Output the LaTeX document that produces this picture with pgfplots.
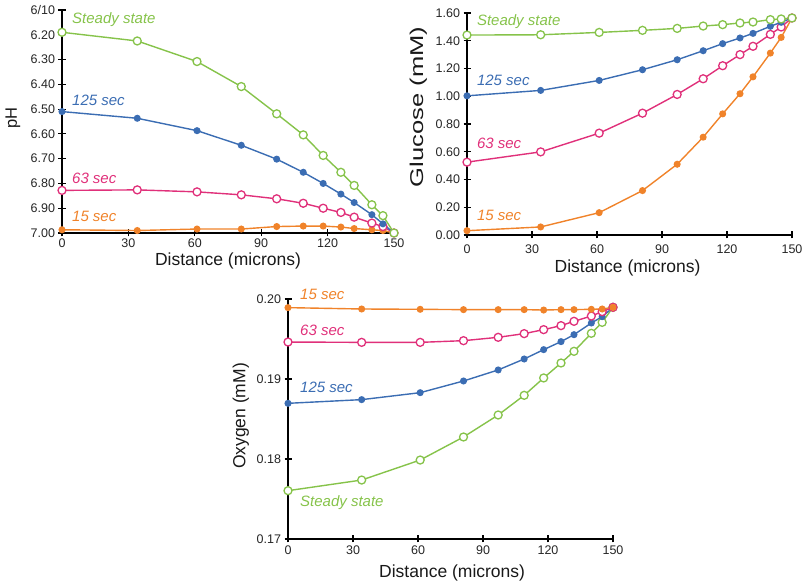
\documentclass[border=0pt]{standalone}
\usepackage{pgfplots}
\usepackage{pgfplotstable}
\pgfplotsset{compat=1.18}
\usepackage{fontspec}
\setmainfont{Liberation Sans}
\usepackage{graphicx}
\definecolor{cgreen}{HTML}{86C34A}
\definecolor{cblue}{HTML}{3B6DB3}
\definecolor{cmag}{HTML}{E0307A}
\definecolor{corange}{HTML}{F0832A}

\pgfplotstableread{
x ss s125 s63 s15
0   6.190 6.510 6.828 6.987
34  6.225 6.537 6.826 6.990
61  6.308 6.587 6.834 6.984
81  6.409 6.646 6.846 6.984
97  6.519 6.702 6.862 6.974
109 6.604 6.755 6.880 6.972
118 6.687 6.800 6.900 6.972
126 6.755 6.843 6.917 6.976
132 6.808 6.877 6.936 6.982
140 6.886 6.926 6.960 6.987
145 6.930 6.963 6.974 6.990
150 7.000 7.000 7.000 7.000
}\phdata

\pgfplotstableread{
x ss s125 s63 s15
0   1.441 1.003 0.525 0.031
34  1.443 1.042 0.599 0.058
61  1.460 1.114 0.734 0.161
81  1.475 1.191 0.878 0.320
97  1.489 1.263 1.013 0.510
109 1.506 1.328 1.126 0.705
118 1.516 1.379 1.220 0.873
126 1.528 1.420 1.300 1.018
132 1.535 1.453 1.360 1.140
140 1.552 1.504 1.446 1.311
145 1.557 1.533 1.499 1.424
150 1.564 1.564 1.564 1.564
}\glucdata

\pgfplotstableread{
x ss s125 s63 s15
0   0.17604 0.18696 0.19462 0.19892
34  0.17737 0.18742 0.19458 0.19875
61  0.17987 0.18829 0.19458 0.19871
81  0.18275 0.18975 0.19479 0.19867
97  0.18550 0.19113 0.19521 0.19867
109 0.18796 0.19250 0.19567 0.19867
118 0.19013 0.19367 0.19617 0.19862
126 0.19200 0.19467 0.19667 0.19867
132 0.19346 0.19554 0.19721 0.19867
140 0.19571 0.19700 0.19787 0.19871
145 0.19708 0.19779 0.19842 0.19875
150 0.19896 0.19896 0.19896 0.19896
}\oxydata

\pgfplotsset{
  myax/.style={
    scale only axis, clip=false,
    axis lines=left, axis line style={-, line width=1.3bp, black},
    tick align=center, major tick length=7bp,
    every tick/.style={black, line width=1.2bp},
    tick label style={font=\fontsize{12.5bp}{14bp}\selectfont, text=black!85},
    /pgf/number format/assume math mode=true,
    xmin=0, xmax=150, xtick={0,30,60,90,120,150},
    xlabel={Distance (microns)},
    scaled y ticks=false,
  },
  ss/.style={cgreen, line width=1.4bp, mark=*, mark size=4bp, mark options={fill=white, draw=cgreen, line width=1.3bp}},
  s125/.style={cblue, line width=1.4bp, mark=*, mark size=2.8bp, mark options={fill=cblue}},
  s63/.style={cmag, line width=1.4bp, mark=*, mark size=4bp, mark options={fill=white, draw=cmag, line width=1.3bp}},
  s15/.style={corange, line width=1.4bp, mark=*, mark size=2.8bp, mark options={fill=corange}},
}
\tikzset{lab/.style={font=\fontsize{15bp}{17bp}\selectfont\itshape, anchor=west},
  axlab/.style={font=\fontsize{17.5bp}{20bp}\selectfont, anchor=center, text=black!90}}

\begin{document}
\begin{tikzpicture}
\path[use as bounding box] (0,0) rectangle (802bp,587bp);

% pH
\begin{axis}[myax, at={(62bp,577bp)}, anchor=north west,
  width=332bp, height=223bp,
  ymin=6.1, ymax=7.0, y dir=reverse,
  ytick={6.1,6.2,6.3,6.4,6.5,6.6,6.7,6.8,6.9,7.0},
  yticklabels={6/10,6.20,6.30,6.40,6.50,6.60,6.70,6.80,6.90,7.00},
  xticklabel style={yshift=1bp},
  ylabel={pH},
  every axis y label/.style={at={(axis description cs:-0.148,0.516)}, rotate=90, axlab, font=\fontsize{16.5bp}{18bp}\selectfont},
  every axis x label/.style={at={(axis description cs:0.5,-0.125)}, axlab},
]
\addplot[s15] table[x=x,y=s15] {\phdata};
\addplot[s63] table[x=x,y=s63] {\phdata};
\addplot[s125] table[x=x,y=s125] {\phdata};
\addplot[ss] table[x=x,y=ss] {\phdata};
\node[lab, text=cgreen] at (axis cs:3,6.14) {Steady state};
\node[lab, text=cblue] at (axis cs:3,6.463) {125 sec};
\node[lab, text=cmag] at (axis cs:3,6.778) {63 sec};
\node[lab, text=corange] at (axis cs:3,6.935) {15 sec};
\end{axis}

% Glucose
\begin{axis}[myax, at={(467bp,574bp)}, anchor=north west,
  width=325bp, height=222bp,
  ymin=0, ymax=1.6,
  ytick={0,0.2,0.4,0.6,0.8,1.0,1.2,1.4,1.6},
  yticklabel style={/pgf/number format/.cd, fixed, fixed zerofill, precision=2},
  xticklabel style={yshift=-3bp},
  ylabel={\scalebox{1.38}[1]{Glucose (mM)}},
  every axis y label/.style={at={(axis description cs:-0.150,0.577)}, rotate=90, axlab, font=\fontsize{18.5bp}{20bp}\selectfont},
  every axis x label/.style={at={(axis description cs:0.494,-0.149)}, axlab},
]
\addplot[s15] table[x=x,y=s15] {\glucdata};
\addplot[s63] table[x=x,y=s63] {\glucdata};
\addplot[s125] table[x=x,y=s125] {\glucdata};
\addplot[ss] table[x=x,y=ss] {\glucdata};
\node[lab, text=cgreen] at (axis cs:3,1.535) {Steady state};
\node[lab, text=cblue] at (axis cs:3,1.117) {125 sec};
\node[lab, text=cmag] at (axis cs:3,0.663) {63 sec};
\node[lab, text=corange] at (axis cs:3,0.144) {15 sec};
\end{axis}

% Oxygen
\begin{axis}[myax, at={(288bp,288bp)}, anchor=north west,
  width=325bp, height=240bp,
  ymin=0.17, ymax=0.20,
  ytick={0.17,0.18,0.19,0.20},
  yticklabel style={/pgf/number format/.cd, fixed, fixed zerofill, precision=2},
  ylabel={Oxygen (mM)},
  every axis y label/.style={at={(axis description cs:-0.145,0.5125)}, rotate=90, axlab},
  every axis x label/.style={at={(axis description cs:0.505,-0.142)}, axlab},
]
\addplot[ss] table[x=x,y=ss] {\oxydata};
\addplot[s125] table[x=x,y=s125] {\oxydata};
\addplot[s63] table[x=x,y=s63] {\oxydata};
\addplot[s15] table[x=x,y=s15] {\oxydata};
\node[lab, text=corange] at (axis cs:4,0.2006) {15 sec};
\node[lab, text=cmag] at (axis cs:4,0.1961) {63 sec};
\node[lab, text=cblue] at (axis cs:4,0.1889) {125 sec};
\node[lab, text=cgreen] at (axis cs:4,0.1746) {Steady state};
\end{axis}
\end{tikzpicture}
\end{document}
